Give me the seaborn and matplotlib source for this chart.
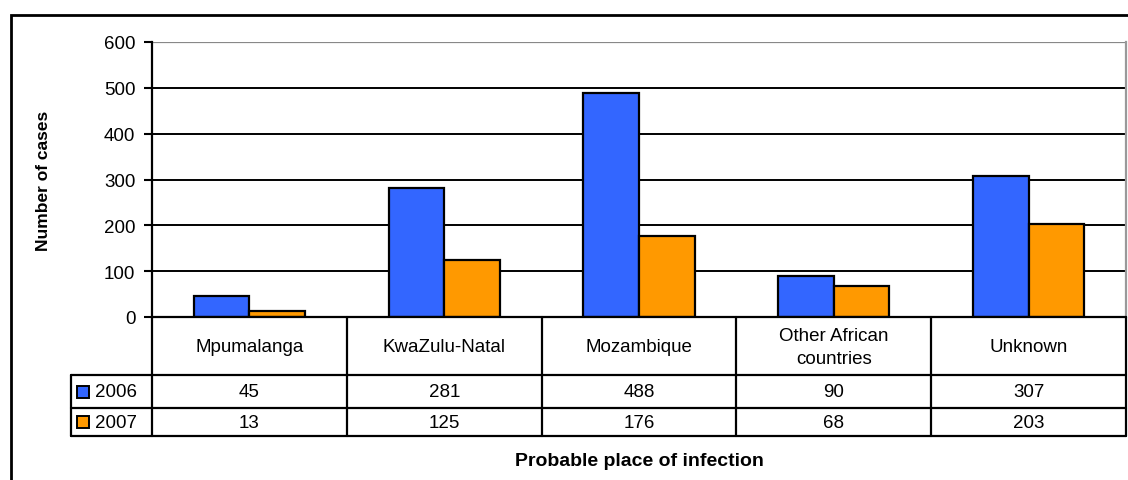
import numpy as np
import pandas as pd
import matplotlib
matplotlib.use("Agg")
import matplotlib.pyplot as plt
import matplotlib.transforms as mtransforms
from matplotlib.patches import Rectangle
import seaborn as sns

places = ["Mpumalanga", "KwaZulu-Natal", "Mozambique", "Other African\ncountries", "Unknown"]
years = ["2006", "2007"]
cases_2006 = [45, 281, 488, 90, 307]
cases_2007 = [13, 125, 176, 68, 203]
colors = ["#3366FF", "#FF9900"]

df = pd.DataFrame({
    "place": places * 2,
    "year": [years[0]] * len(places) + [years[1]] * len(places),
    "cases": cases_2006 + cases_2007,
})

sns.set_style("white")
plt.rcParams["font.family"] = ["Liberation Sans", "DejaVu Sans"]
plt.rcParams["text.color"] = "black"
plt.rcParams["ytick.color"] = "black"
plt.rcParams["ytick.labelcolor"] = "black"

FS = 13.5

fig = plt.figure(figsize=(11.28, 4.81), dpi=100)
W, H = 1128, 481
left, right, top, bottom = 152, 1126, 43, 318
ax = fig.add_axes([left / W, 1 - bottom / H, (right - left) / W, (bottom - top) / H])

sns.barplot(data=df, x="place", y="cases", hue="year", palette=colors, ax=ax,
            width=0.57, gap=0, edgecolor="black", linewidth=1.6, legend=False,
            saturation=1, zorder=3)

ax.set_ylim(0, 600)
ax.set_xlim(-0.5, len(places) - 0.5)
ax.set_yticks(range(0, 601, 100))
ax.set_xticks([])
ax.set_xlabel("")
ax.set_ylabel("")
ax.tick_params(axis="y", labelsize=FS, length=6, width=1.5, pad=6, left=True, color="black")
for y in range(100, 600, 100):
    ax.axhline(y, color="black", lw=1.4, zorder=1)
ax.axhline(600, color="#888888", lw=1.6, zorder=1)
ax.spines["left"].set_color("black")
ax.spines["left"].set_linewidth(1.6)
ax.spines["right"].set_color("#999999")
ax.spines["right"].set_linewidth(1.6)
ax.spines["top"].set_visible(False)
ax.spines["bottom"].set_visible(False)

# data table below the plot
ph = bottom - top
pw = right - left
def ay(px):
    return (bottom - px) / ph
def ax_frac(px):
    return (px - left) / pw

trans = mtransforms.blended_transform_factory(ax.transData, ax.transAxes)
kw = dict(color="black", lw=1.6, clip_on=False, zorder=5)
y_head, y_r1, y_r2 = ay(376), ay(409), ay(437)
n = len(places)
ax.plot([-0.5, n - 0.5], [0, 0], transform=trans, **kw)
for yy in (y_head, y_r1, y_r2):
    ax.plot([ax_frac(71), 1], [yy, yy], transform=ax.transAxes, **kw)
for b in np.arange(-0.5, n, 1.0):
    ax.plot([b, b], [0, y_r2], transform=trans, **kw)
ax.plot([ax_frac(71), ax_frac(71)], [y_head, y_r2], transform=ax.transAxes, **kw)

for i, p in enumerate(places):
    ax.text(i, ay(348), p, transform=trans, ha="center", va="center", fontsize=FS,
            linespacing=1.45)
    ax.text(i, ay(392.5), str(cases_2006[i]), transform=trans, ha="center", va="center", fontsize=FS)
    ax.text(i, ay(423), str(cases_2007[i]), transform=trans, ha="center", va="center", fontsize=FS)

for yr, col, yc in zip(years, colors, (ay(392.5), ay(423))):
    sq = 12 / ph
    ax.add_patch(Rectangle((ax_frac(77), yc - sq / 2), 12 / pw, sq, transform=ax.transAxes,
                           facecolor=col, edgecolor="black", lw=1.4, clip_on=False, zorder=6))
    ax.text(ax_frac(95), yc, yr, transform=ax.transAxes, ha="left", va="center", fontsize=FS)

ax.text(0.5, ay(461), "Probable place of infection", transform=ax.transAxes,
        ha="center", va="center", fontsize=14, fontweight="bold")
ax.text(ax_frac(44), 0.5, "Number of cases", transform=ax.transAxes, rotation=90,
        ha="center", va="center", fontsize=12.5, fontweight="bold")

# outer chart frame (runs off right and bottom)
fig.patches.append(Rectangle((11 / W, -0.1), 1.1, 1 - 16 / H + 0.1, transform=fig.transFigure,
                             fill=False, edgecolor="black", lw=2, figure=fig))

fig.savefig("out.png", dpi=100)
